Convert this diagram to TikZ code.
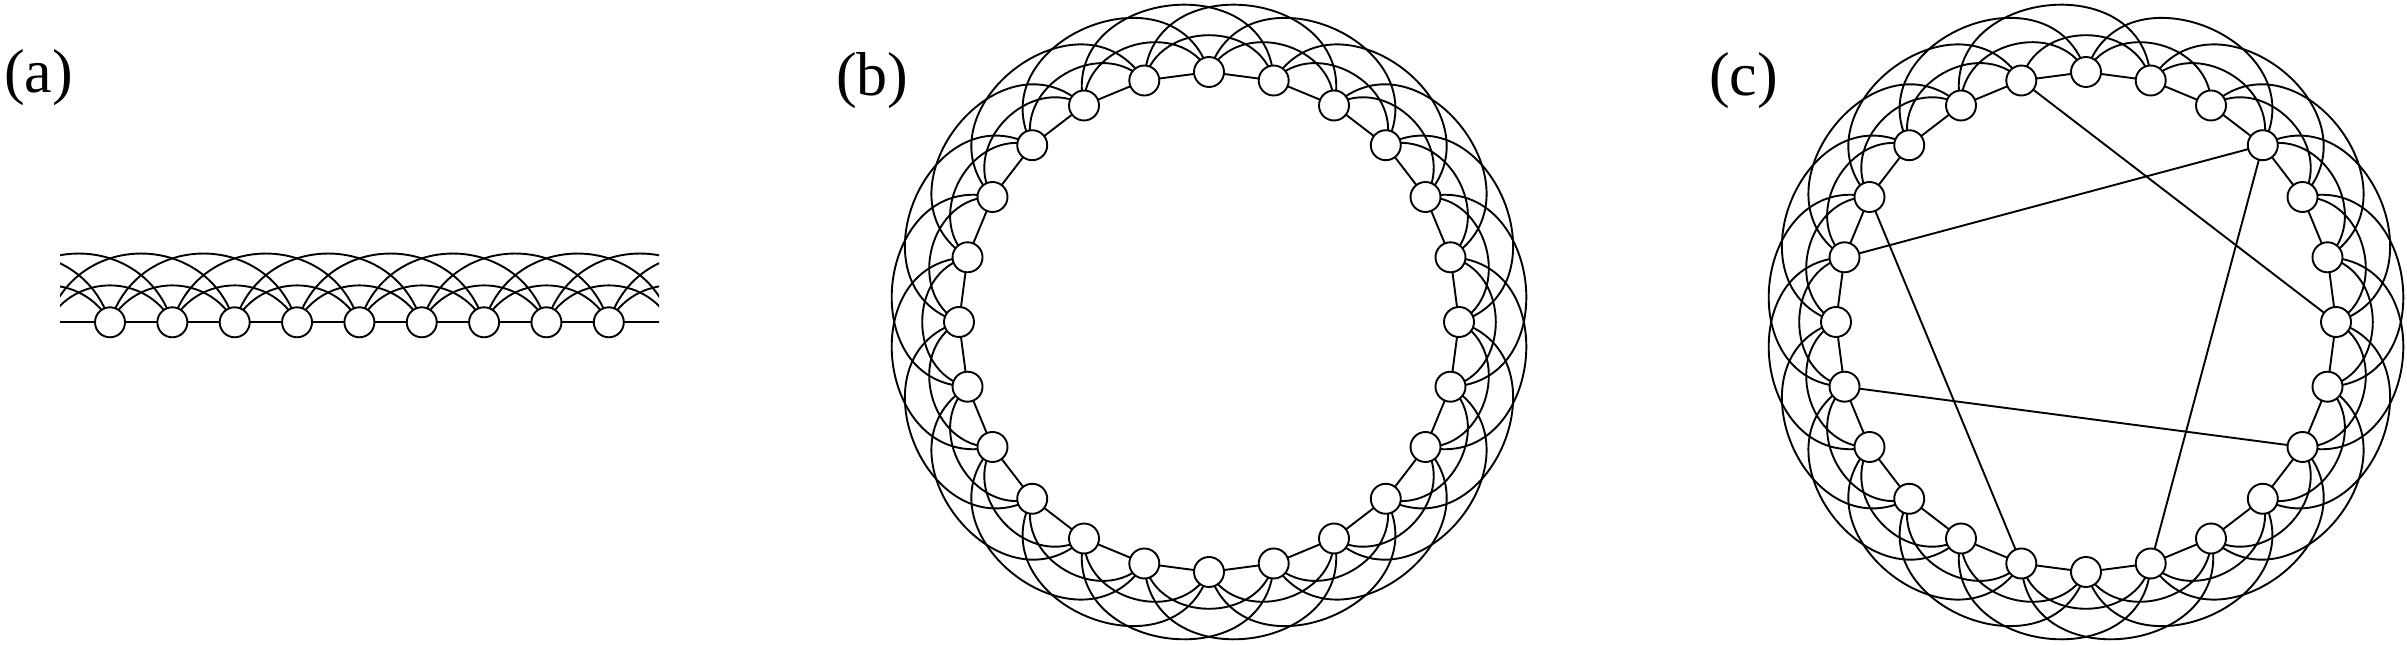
\documentclass[tikz,border=0pt]{standalone}
\usepackage{fontspec}
\setmainfont{Liberation Serif}
\usetikzlibrary{backgrounds,calc}
\begin{document}
\begin{tikzpicture}[x=1pt,y=1pt,
  vtx/.style={circle, draw, fill=white, minimum size=30pt, inner sep=0pt, line width=1.9pt},
  lnk/.style={line width=1.9pt},
  arctwoL/.style={bend left=61.4, looseness=1.152},
  arcthreeL/.style={bend left=72.9, looseness=1.315},
  ringtwo/.style={bend right=76.4, looseness=1.232},
  ringthree/.style={bend right=95.4, looseness=1.574},
  lbl/.style={font=\fontsize{62}{66}\selectfont, anchor=base west, inner sep=0pt}]
\useasboundingbox (0,0) rectangle (2407,645);
% labels
\node[lbl] (la) at (4,552) {(a)};
\node[lbl] (lb) at (836,549) {(b)};
\node[lbl] (lc) at (1709,549) {(c)};
% ---------- (a) one-dimensional lattice ----------
\foreach \i in {-3,...,11} \coordinate (pa\i) at ({110+62.35*\i},322.7);
\foreach \i in {0,...,8} \node[vtx] (a\i) at (pa\i) {};
\begin{pgfonlayer}{background}
\begin{scope}
\clip (60,0) rectangle (659,645);
\foreach \i in {-3,...,10}{\pgfmathtruncatemacro{\j}{\i+1}\draw[lnk] (pa\i) -- (pa\j);}
\foreach \i in {-3,...,9}{\pgfmathtruncatemacro{\j}{\i+2}\draw[lnk] (pa\i) to[arctwoL] (pa\j);}
\foreach \i in {-3,...,8}{\pgfmathtruncatemacro{\j}{\i+3}\draw[lnk] (pa\i) to[arcthreeL] (pa\j);}
\end{scope}
\end{pgfonlayer}
% ---------- (b) regular ring ----------
\foreach \k in {0,...,23} \node[vtx] (b\k) at ($(1209,323)+({15*\k}:250)$) {};
\begin{pgfonlayer}{background}
\foreach \k in {0,...,23}{%
  \pgfmathtruncatemacro{\ja}{mod(\k+1,24)}%
  \pgfmathtruncatemacro{\jb}{mod(\k+2,24)}%
  \pgfmathtruncatemacro{\jc}{mod(\k+3,24)}%
  \draw[lnk] (b\k.center) -- (b\ja.center);
  \draw[lnk] (b\k.center) to[ringtwo] (b\jb.center);
  \draw[lnk] (b\k.center) to[ringthree] (b\jc.center);
}
\end{pgfonlayer}
% ---------- (c) small-world ring ----------
\foreach \k in {0,...,23} \node[vtx] (c\k) at ($(2086,323)+({15*\k}:250)$) {};
\begin{pgfonlayer}{background}
\foreach \k in {0,...,23}{%
  \pgfmathtruncatemacro{\ja}{mod(\k+1,24)}%
  \pgfmathtruncatemacro{\jb}{mod(\k+2,24)}%
  \pgfmathtruncatemacro{\jc}{mod(\k+3,24)}%
  \draw[lnk] (c\k.center) -- (c\ja.center);
  \draw[lnk] (c\k.center) to[ringtwo] (c\jb.center);
  \ifnum\k=4\relax\else
  \draw[lnk] (c\k.center) to[ringthree] (c\jc.center);
  \fi
}
\draw[lnk] (c7.center) -- (c0.center);
\draw[lnk] (c3.center) -- (c11.center);
\draw[lnk] (c3.center) -- (c19.center);
\draw[lnk] (c10.center) -- (c17.center);
\draw[lnk] (c13.center) -- (c22.center);
\end{pgfonlayer}
\end{tikzpicture}
\end{document}
